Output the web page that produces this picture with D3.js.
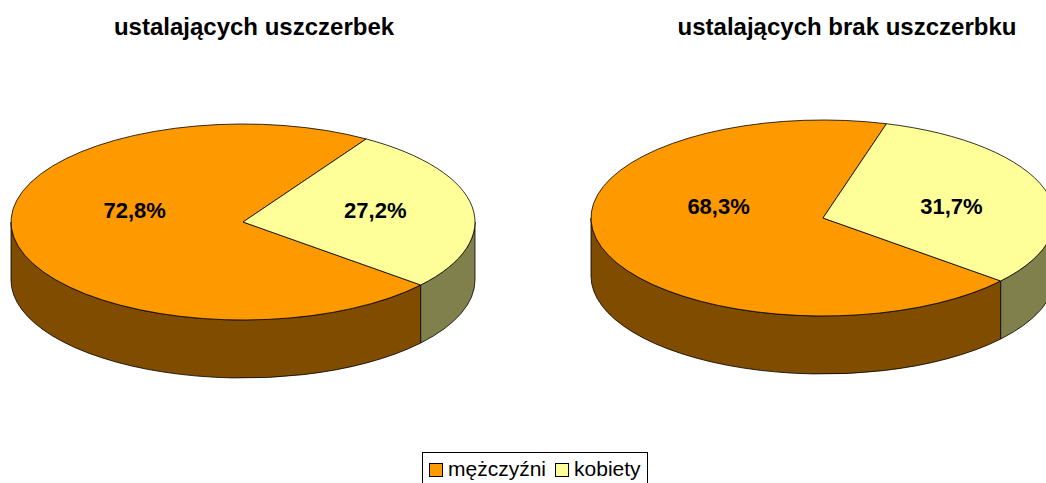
<!DOCTYPE html>
<html>
<head>
<meta charset="utf-8">
<script src="https://cdn.jsdelivr.net/npm/d3@7"></script>
<style>
  body { margin: 0; background: #fff; }
  svg { display: block; font-family: Arial, "Liberation Sans", sans-serif; }
</style>
</head>
<body>
<svg id="chart"></svg>
<script>
'use strict';

// data
var categories = ['mężczyźni', 'kobiety'];
var titles = ['ustalających uszczerbek', 'ustalających brak uszczerbku'];
var valuesUszczerbek = [72.8, 27.2];
var valuesBrak = [68.3, 31.7];

// colours
var topColors  = ['#ff9900', '#ffff99'];
var sideColors = ['#7f4c00', '#80804c'];

// chart size
var width = 1046, height = 483;
var rx = 232, ry = 98, depth = 58;
var rotation = 130 * Math.PI / 180;   // first slice starts here (clockwise from 12 o'clock)

var layout = [
  { cx: 243, cy: 222, titleX: 254 },
  { cx: 823, cy: 218, titleX: 847 }
];
var series = [valuesUszczerbek, valuesBrak];

var svg = d3.select('#chart').attr('width', width).attr('height', height);

var fmt = d3.formatLocale({ decimal: ',', thousands: ' ', grouping: [3], currency: ['', ''] }).format('.1f');

var pie = d3.pie().sort(null).value(function(d){ return d; })
  .startAngle(rotation).endAngle(rotation + 2 * Math.PI);

var arc = d3.arc().innerRadius(0).outerRadius(rx);

// depth in the un-squashed coordinates
var k = ry / rx;
var D = depth / k;

// visible front part of the rim: angles in (90°, 270°) mod 360
function frontParts(s, e) {
  var out = [];
  [Math.PI / 2, Math.PI / 2 + 2 * Math.PI].forEach(function(w0){
    var a = Math.max(s, w0), b = Math.min(e, w0 + Math.PI);
    if (b > a) out.push([a, b]);
  });
  return out;
}

function sidePath(a, b) {
  var p = d3.path();
  p.moveTo(rx * Math.sin(a), -rx * Math.cos(a));
  p.arc(0, 0, rx, a - Math.PI / 2, b - Math.PI / 2);
  p.lineTo(rx * Math.sin(b), -rx * Math.cos(b) + D);
  p.arc(0, D, rx, b - Math.PI / 2, a - Math.PI / 2, true);
  p.closePath();
  return p.toString();
}

series.forEach(function(vals, i){
  var L = layout[i];
  var arcs = pie(vals);

  // title
  svg.append('text')
    .attr('x', L.titleX).attr('y', 35)
    .attr('text-anchor', 'middle')
    .style('font-size', '24px').style('font-weight', 'bold')
    .text(titles[i]);

  var g = svg.append('g').attr('transform', 'translate(' + L.cx + ',' + L.cy + ')');
  var flat = g.append('g').attr('transform', 'scale(1,' + k + ')');

  // rim
  arcs.forEach(function(d, j){
    frontParts(d.startAngle, d.endAngle).forEach(function(r){
      flat.append('path')
        .attr('d', sidePath(r[0], r[1]))
        .attr('fill', sideColors[j])
        .attr('stroke', '#000').attr('stroke-width', 0.8)
        .attr('vector-effect', 'non-scaling-stroke');
    });
  });

  // top
  flat.selectAll('path.top').data(arcs).enter().append('path')
    .attr('class', 'top')
    .attr('d', arc)
    .attr('fill', function(d, j){ return topColors[j]; })
    .attr('stroke', '#000').attr('stroke-width', 0.8)
    .attr('stroke-linejoin', 'round')
    .attr('vector-effect', 'non-scaling-stroke');

  // labels (horizontal along mid angle, kept just above the centre line)
  g.selectAll('text.lbl').data(arcs).enter().append('text')
    .attr('class', 'lbl')
    .attr('x', function(d){ var m = (d.startAngle + d.endAngle) / 2; return rx * 0.525 * Math.sin(m) + 12; })
    .attr('y', -12)
    .attr('dy', '0.35em')
    .attr('text-anchor', 'middle')
    .style('font-size', '22px').style('font-weight', 'bold')
    .text(function(d){ return fmt(d.value) + '%'; });
});

// legend
var legend = svg.append('g').attr('transform', 'translate(422,452)');
legend.append('rect')
  .attr('x', 0.5).attr('y', 0.5).attr('width', 225).attr('height', 34)
  .attr('fill', '#fff').attr('stroke', '#000').attr('stroke-width', 1);

var lx = 7;
categories.forEach(function(c, j){
  legend.append('rect')
    .attr('x', lx + 0.5).attr('y', 11.5).attr('width', 13).attr('height', 13)
    .attr('fill', topColors[j]).attr('stroke', '#000').attr('stroke-width', 1);
  var t = legend.append('text')
    .attr('x', lx + 19).attr('y', 24)
    .style('font-size', '21px')
    .text(c);
  lx += 19 + t.node().getComputedTextLength() + 9;
});
</script>
</body>
</html>
